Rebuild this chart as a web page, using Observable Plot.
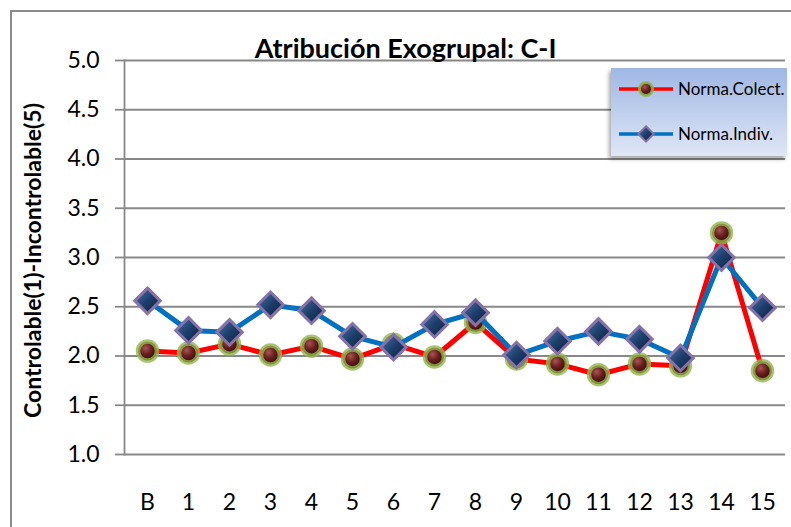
<!DOCTYPE html>
<html>
<head>
<meta charset="utf-8">
<script src="https://cdn.jsdelivr.net/npm/d3@7"></script>
<script src="https://cdn.jsdelivr.net/npm/@observablehq/plot@0.6"></script>
<style>
  html, body { margin: 0; padding: 0; background: #fff; overflow: hidden; }
  #wrap { position: relative; width: 791px; height: 527px; overflow: hidden; }
  #border { position: absolute; left: 10px; top: 10px; width: 820px; height: 560px;
            border: 2px solid #8a8a8a; box-sizing: border-box; }
  #chart { position: absolute; left: 0; top: 0; }
  #legend { position: absolute; left: 611px; top: 68px; width: 176px; height: 88px;
            background: linear-gradient(to bottom, #9fb7e4, #dfe7f6);
            box-shadow: -2px 3px 4px rgba(0,0,0,0.35); }
</style>
</head>
<body>
<div id="wrap">
  <div id="border"></div>
  <div id="chart"></div>
  <div id="legend"></div>
</div>
<script>
// Categories along the x axis and the two series (mean score per item)
const categories = ["B","1","2","3","4","5","6","7","8","9","10","11","12","13","14","15"];
const normaColect = [2.05, 2.03, 2.12, 2.01, 2.10, 1.97, 2.12, 1.99, 2.34, 1.97, 1.92, 1.81, 1.92, 1.90, 3.25, 1.85];
const normaIndiv  = [2.56, 2.26, 2.24, 2.52, 2.46, 2.20, 2.09, 2.32, 2.44, 2.01, 2.15, 2.25, 2.17, 1.98, 3.00, 2.49];
const yTicks = [1.0, 1.5, 2.0, 2.5, 3.0, 3.5, 4.0, 4.5, 5.0];
const seriesNames = ["Norma.Colect.", "Norma.Indiv."];
const titleText = "Atribución Exogrupal: C-I";
const yLabel = "Controlable(1)-Incontrolable(5)";

const colectRows = categories.map((c, i) => ({cat: c, v: normaColect[i]}));
const indivRows = categories.map((c, i) => ({cat: c, v: normaIndiv[i]}));

const FONT = "Lato, 'Open Sans', sans-serif";

const chart = Plot.plot({
  width: 791,
  height: 527,
  marginLeft: 124,
  marginRight: 6,
  marginTop: 60,
  marginBottom: 73,
  style: {fontFamily: FONT, background: "transparent", color: "#000"},
  x: {type: "point", domain: categories, padding: 0.5},
  y: {domain: [1, 5]},
  marks: [
    Plot.gridY(yTicks, {stroke: "#888", strokeOpacity: 1, strokeWidth: 1.8}),
    Plot.frame({anchor: "left", stroke: "#888", strokeWidth: 1.8}),
    Plot.axisY(yTicks, {tickSize: 9, tickPadding: 16, stroke: "#888", strokeWidth: 1.8,
      tickFormat: d => d.toFixed(1), fontSize: 23, label: null}),
    Plot.axisX({tickSize: 0, tickPadding: 39, fontSize: 23, label: null}),
    Plot.line(colectRows, {x: "cat", y: "v", stroke: "#ff0000", strokeWidth: 5, strokeLinejoin: "round"}),
    Plot.dot(colectRows, {x: "cat", y: "v", r: 9.5, fill: "url(#gradColect)",
      stroke: "#93b54e", strokeWidth: 4.5, strokeOpacity: 0.8}),
    Plot.line(indivRows, {x: "cat", y: "v", stroke: "#0070c0", strokeWidth: 5, strokeLinejoin: "round"}),
    Plot.dot(indivRows, {x: "cat", y: "v", symbol: "diamond2", r: 11.5, fill: "url(#gradIndiv)",
      stroke: "#8672a8", strokeWidth: 3}),
    Plot.text([titleText], {frameAnchor: "top-left", dx: 281, dy: -11, fontSize: 27,
      fontWeight: "bold", textAnchor: "middle", lineAnchor: "middle"}),
    Plot.text([yLabel], {frameAnchor: "left", dx: -91, dy: 3, rotate: -90, fontSize: 23,
      fontWeight: "bold", textAnchor: "middle", lineAnchor: "middle"})
  ]
});

// Shaded fills for the markers
const defs = `
<defs>
  <radialGradient id="gradColect" cx="0.4" cy="0.35" r="0.7">
    <stop offset="0" stop-color="#a85454"/>
    <stop offset="0.45" stop-color="#6a1e1e"/>
    <stop offset="1" stop-color="#2e0606"/>
  </radialGradient>
  <linearGradient id="gradIndiv" x1="0" y1="0" x2="1" y2="1">
    <stop offset="0" stop-color="#4b76aa"/>
    <stop offset="0.5" stop-color="#1d3e6b"/>
    <stop offset="1" stop-color="#0b1d38"/>
  </linearGradient>
</defs>`;
chart.insertAdjacentHTML("afterbegin", defs);
document.getElementById("chart").appendChild(chart);

// Legend box: line sample with marker, then series name
const legend = d3.select("#legend").append("svg")
  .attr("width", 176).attr("height", 88)
  .style("font-family", FONT);
const legendRows = [
  {name: seriesNames[0], y: 21, stroke: "#ff0000", kind: "circle"},
  {name: seriesNames[1], y: 66, stroke: "#0070c0", kind: "diamond"}
];
for (const row of legendRows) {
  legend.append("line").attr("x1", 8).attr("x2", 62).attr("y1", row.y).attr("y2", row.y)
    .attr("stroke", row.stroke).attr("stroke-width", 3.5);
  if (row.kind === "circle") {
    legend.append("circle").attr("cx", 35).attr("cy", row.y).attr("r", 6.5)
      .attr("fill", "url(#gradColect)").attr("stroke", "#93b54e").attr("stroke-width", 3).attr("stroke-opacity", 0.85);
  } else {
    legend.append("path").attr("d", d3.symbol(d3.symbolDiamond2, 150)())
      .attr("transform", `translate(35,${row.y})`)
      .attr("fill", "url(#gradIndiv)").attr("stroke", "#8672a8").attr("stroke-width", 2);
  }
  legend.append("text").attr("x", 67).attr("y", row.y).attr("dy", "0.35em")
    .attr("font-size", 17).attr("fill", "#000").text(row.name);
}
</script>
</body>
</html>
